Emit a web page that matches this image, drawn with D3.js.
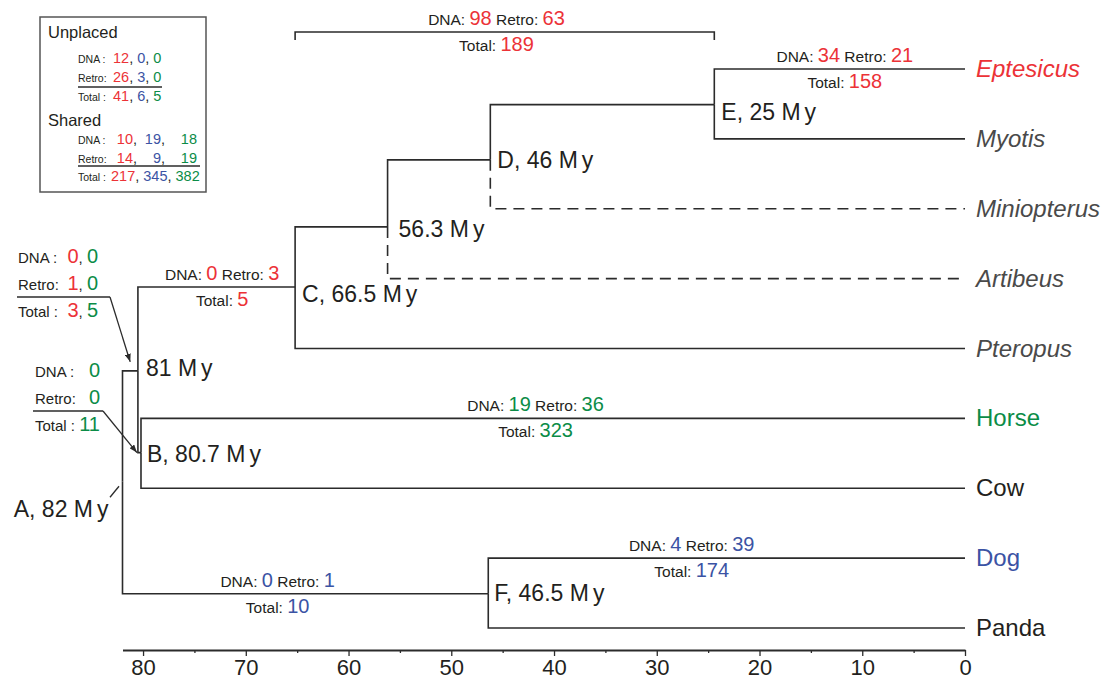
<!DOCTYPE html>
<html><head><meta charset="utf-8">
<script src="https://cdn.jsdelivr.net/npm/d3@7"></script>
<style>
body{margin:0;background:#fff}
svg{display:block}
text{font-family:"Liberation Sans",Arial,Helvetica,sans-serif;fill:#231f20}
</style>
</head><body>
<svg id="chart" width="1105" height="682"></svg>
<script>
// ---------------- data ----------------
const leafNames = ["Eptesicus","Myotis","Miniopterus","Artibeus","Pteropus","Horse","Cow","Dog","Panda"];
const leafGroups = ["batRed","bat","bat","bat","bat","horse","plain","dog","plain"];
const uncertainLeaves = ["Miniopterus","Artibeus"];

const nodeIds = ["A","N81","B","C","N56","D","E","F"];
const nodeLabels = ["A, 82 My","81 My","B, 80.7 My","C, 66.5 My","56.3 My","D, 46 My","E, 25 My","F, 46.5 My"];
const nodeAges = [82, 80.5, 80.2, 65.2, 56.2, 46.2, 24.4, 46.4];      // drawn positions (My)
const nodeRows = [5.9, 4.32, 5.49, 3.12, 2.26, 1.30, 0.51, 7.51];      // vertical position in leaf rows
const nodeChildren = [["N81","F"],["C","B"],["Horse","Cow"],["N56","Pteropus"],["D","Artibeus"],["E","Miniopterus"],["Eptesicus","Myotis"],["Dog","Panda"]];

const axisTicks = [80,70,60,50,40,30,20,10,0];
const axisMinorTicks = [75,65,55,45,35,25,15,5];

const annIds = ["bracket","Eptesicus","C","Horse","Dog","F"];
const annDNA = [98,34,0,19,4,0];
const annRetro = [63,21,3,36,39,1];
const annTotal = [189,158,5,323,174,10];
const annGroup = ["bat","bat","bat","horse","dog","dog"];
const annAge = [45.6, 11.7, 72.3, 41.8, 26.6, 66.9];
const annRow = [-0.53, 0, 3.12, 5, 7, 7.51];

const call1DNA = [0,0], call1Retro = [1,0], call1Total = [3,5], call1Groups = ["bat","horse"];
const call2DNA = [0], call2Retro = [0], call2Total = [11], call2Groups = ["horse"];

const legendGroups = ["bat","dog","horse"];
const unplacedDNA = [12,0,0], unplacedRetro = [26,3,0], unplacedTotal = [41,6,5];
const sharedDNA = [10,19,18], sharedRetro = [14,9,19], sharedTotal = [217,345,382];

// ---------------- styles ----------------
const RED = "#ec3237", BLUE = "#3b53a4", GREEN = "#0b8c47", DARK = "#231f20", GREY = "#4a4a4a";
const groupColor = {bat: RED, batRed: RED, dog: BLUE, horse: GREEN, plain: DARK};
const leafColor = {batRed: RED, bat: GREY, horse: GREEN, dog: BLUE, plain: DARK};
const labelOffsets = {A:[-14,36,"end"], N81:[8,5,"start"], B:[6,9,"start"], C:[7,15,"start"],
  N56:[11,10,"start"], D:[7,8,"start"], E:[7,15,"start"], F:[6,7,"start"]};

const svg = d3.select("#chart");
const x = d3.scaleLinear().domain([0, 82]).range([965, 122.5]);
const y = d3.scaleLinear().domain([0, 8]).range([69, 628]);

// position lookup
const pos = {};
leafNames.forEach((n, i) => pos[n] = {age: 0, row: i});
nodeIds.forEach((n, i) => pos[n] = {age: nodeAges[i], row: nodeRows[i]});

// ---------------- tree ----------------
const edges = [];
nodeIds.forEach((p, i) => nodeChildren[i].forEach(c => edges.push({p, c})));
svg.append("g").selectAll("path").data(edges).join("path")
  .attr("d", e => `M${x(pos[e.p].age)},${y(pos[e.p].row)}V${y(pos[e.c].row)}H${x(pos[e.c].age)}`)
  .attr("fill", "none").attr("stroke", "#2b2b2b").attr("stroke-width", 1.6)
  .attr("stroke-dasharray", e => uncertainLeaves.includes(e.c) ? "11,7" : null);

// leaf labels
svg.append("g").selectAll("text").data(leafNames).join("text")
  .attr("x", x(0) + 11).attr("y", (d, i) => y(i) + 8)
  .attr("font-size", 24)
  .attr("font-style", (d, i) => leafGroups[i].startsWith("bat") ? "italic" : null)
  .style("fill", (d, i) => leafColor[leafGroups[i]])
  .text(d => d);

// node labels
nodeIds.forEach((id, i) => {
  const o = labelOffsets[id];
  const t = svg.append("text")
    .attr("x", x(nodeAges[i]) + o[0]).attr("y", y(nodeRows[i]) + o[1])
    .attr("font-size", 23).attr("text-anchor", o[2]);
  const lbl = nodeLabels[i];
  const k = lbl.lastIndexOf("My");
  t.append("tspan").text(lbl.slice(0, k));
  t.append("tspan").attr("letter-spacing", 4).text("M");
  t.append("tspan").text("y");
});
// A pointer
const ax = x(nodeAges[0]), ay = y(nodeRows[0]);
svg.append("line").attr("x1", ax - 12.5).attr("y1", ay + 16).attr("x2", ax - 3.5).attr("y2", ay + 5)
  .attr("stroke", "#2b2b2b").attr("stroke-width", 1.3);

// ---------------- branch annotations ----------------
annIds.forEach((id, i) => {
  const cx = x(annAge[i]), ly = y(annRow[i]);
  const col = groupColor[annGroup[i]];
  const t1 = svg.append("text").attr("x", cx).attr("y", ly - 7).attr("text-anchor", "middle").attr("font-size", 15.5);
  t1.append("tspan").text("DNA: ");
  t1.append("tspan").attr("font-size", 20).style("fill", col).text(annDNA[i]);
  t1.append("tspan").text(" Retro: ");
  t1.append("tspan").attr("font-size", 20).style("fill", col).text(annRetro[i]);
  const t2 = svg.append("text").attr("x", cx).attr("y", ly + 19).attr("text-anchor", "middle").attr("font-size", 15.5);
  t2.append("tspan").text("Total: ");
  t2.append("tspan").attr("font-size", 20).style("fill", col).text(annTotal[i]);
});
// bracket
const bY = y(annRow[0]);
svg.append("path")
  .attr("d", `M${x(pos.C.age)},${bY + 8}V${bY}H${x(pos.E.age)}V${bY + 8}`)
  .attr("fill", "none").attr("stroke", "#2b2b2b").attr("stroke-width", 1.6);

// ---------------- callouts ----------------
svg.append("defs").append("marker").attr("id", "arr")
  .attr("viewBox", "0 0 8 6").attr("refX", 8).attr("refY", 3)
  .attr("markerWidth", 8).attr("markerHeight", 6).attr("markerUnits", "userSpaceOnUse")
  .attr("orient", "auto").append("path").attr("d", "M0,0L8,3L0,6z").attr("fill", "#2b2b2b");

function numText(t, vals, groups) {
  vals.forEach((v, j) => {
    if (j > 0) t.append("tspan").text(", ");
    t.append("tspan").attr("font-size", 20).style("fill", groupColor[groups[j]]).text(v);
  });
}
function callout(lx, nx, baseY, dna, retro, total, groups, ulX1, ulX2, tip) {
  const rows = [["DNA :", dna], ["Retro:", retro], ["Total :", total]];
  rows.forEach((r, j) => {
    const yy = baseY + j * 27;
    svg.append("text").attr("x", lx).attr("y", yy).attr("font-size", 15).text(r[0]);
    const t = svg.append("text").attr("x", nx).attr("y", yy).attr("text-anchor", "end").attr("font-size", 15);
    numText(t, r[1], groups);
  });
  const uy = baseY + 34;
  svg.append("line").attr("x1", ulX1).attr("x2", ulX2).attr("y1", uy).attr("y2", uy)
    .attr("stroke", "#2b2b2b").attr("stroke-width", 1.6);
  svg.append("line").attr("x1", ulX2).attr("y1", uy).attr("x2", tip[0]).attr("y2", tip[1])
    .attr("stroke", "#2b2b2b").attr("stroke-width", 1.3).attr("marker-end", "url(#arr)");
}
callout(18, 98, 263, call1DNA, call1Retro, call1Total, call1Groups, 17, 110,
  [x((nodeAges[0] + nodeAges[1]) / 2), y(nodeRows[1]) - 9]);
callout(35, 100, 377, call2DNA, call2Retro, call2Total, call2Groups, 33, 103,
  [x(nodeAges[1]) - 1, y(nodeRows[2])]);

// ---------------- legend ----------------
const lg = svg.append("g");
lg.append("rect").attr("x", 40).attr("y", 17).attr("width", 166).attr("height", 175)
  .attr("fill", "none").attr("stroke", "#555").attr("stroke-width", 1.5);
lg.append("text").attr("x", 48).attr("y", 38).attr("font-size", 16.5).text("Unplaced");
lg.append("text").attr("x", 48).attr("y", 126).attr("font-size", 16.5).text("Shared");
function legendRow(label, yy, vals, cols, contiguousX) {
  lg.append("text").attr("x", 78).attr("y", yy).attr("font-size", 10.5).text(label);
  if (contiguousX) {
    const t = lg.append("text").attr("x", contiguousX).attr("y", yy).attr("font-size", 10.5);
    vals.forEach((v, j) => {
      if (j > 0) t.append("tspan").attr("font-size", 14.5).text(", ");
      t.append("tspan").attr("font-size", 14.5).style("fill", groupColor[legendGroups[j]]).text(v);
    });
  } else {
    vals.forEach((v, j) => {
      const t = lg.append("text").attr("x", cols[j]).attr("y", yy).attr("text-anchor", "end").attr("font-size", 14.5);
      t.append("tspan").style("fill", groupColor[legendGroups[j]]).text(v);
      if (j < vals.length - 1) lg.append("text").attr("x", cols[j]).attr("y", yy).attr("font-size", 14.5).text(",");
    });
  }
}
legendRow("DNA :", 63, unplacedDNA, null, 113);
legendRow("Retro:", 82, unplacedRetro, null, 113);
legendRow("Total :", 101, unplacedTotal, null, 113);
legendRow("DNA :", 144, sharedDNA, [133, 161, 197]);
legendRow("Retro:", 163, sharedRetro, [133, 161, 197]);
legendRow("Total :", 181, sharedTotal, null, 111);
lg.append("line").attr("x1", 78).attr("x2", 162).attr("y1", 87).attr("y2", 87).attr("stroke", "#2b2b2b").attr("stroke-width", 1.3);
lg.append("line").attr("x1", 78).attr("x2", 200).attr("y1", 166).attr("y2", 166).attr("stroke", "#2b2b2b").attr("stroke-width", 1.3);

// ---------------- axis ----------------
const axG = svg.append("g").attr("transform", "translate(0,650)");
axG.call(d3.axisBottom(x).tickValues(axisTicks).tickSize(6).tickSizeOuter(0).tickPadding(3).tickFormat(d3.format("d")));
axG.select(".domain").attr("stroke", "#2b2b2b").attr("stroke-width", 2);
axG.selectAll(".tick line").attr("stroke", "#2b2b2b").attr("stroke-width", 1.3);
axG.selectAll(".tick text").attr("font-size", 22).attr("font-family", "Liberation Sans, Arial, sans-serif").style("fill", DARK);
const minG = svg.append("g").attr("transform", "translate(0,650)");
minG.call(d3.axisBottom(x).tickValues(axisMinorTicks).tickSize(3).tickSizeOuter(0).tickFormat(""));
minG.select(".domain").remove();
minG.selectAll(".tick line").attr("stroke", "#2b2b2b").attr("stroke-width", 1.3);
</script>
</body></html>
